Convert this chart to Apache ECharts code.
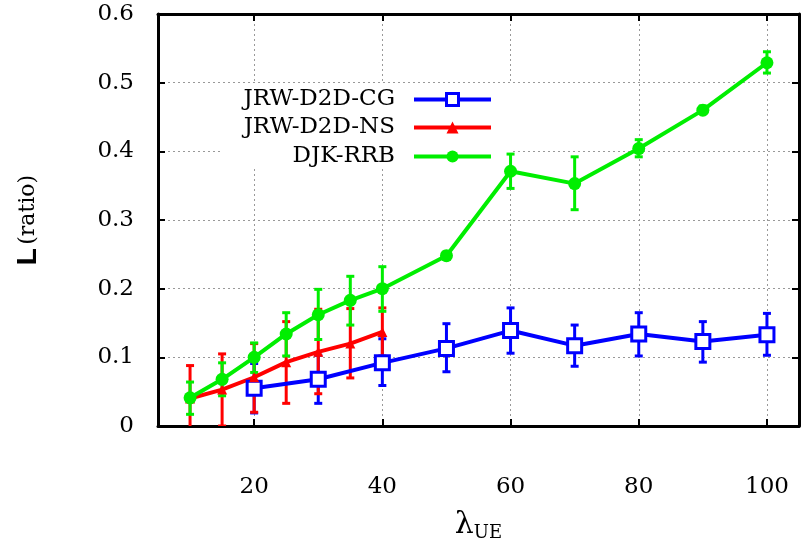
<!DOCTYPE html>
<html><head><meta charset="utf-8">
<script src="https://cdn.jsdelivr.net/npm/echarts@6/dist/echarts.min.js"></script>
<style>html,body{margin:0;padding:0;background:#fff}#c{width:801px;height:547px}</style>
</head><body><div id="c"></div>
<script>
// ---- data ----
const xTicks = [20, 40, 60, 80, 100];
const seriesNames = ['JRW-D2D-CG', 'JRW-D2D-NS', 'DJK-RRB'];

const xCG = [20, 30, 40, 50, 60, 70, 80, 90, 100];
const yCG = [0.055, 0.068, 0.092, 0.113, 0.139, 0.117, 0.134, 0.123, 0.133];
const loCG = [0.019, 0.033, 0.059, 0.079, 0.106, 0.087, 0.102, 0.093, 0.103];
const hiCG = [0.091, 0.103, 0.127, 0.149, 0.172, 0.147, 0.165, 0.152, 0.164];

const xNS = [10, 15, 20, 25, 30, 35, 40];
const yNS = [0.040, 0.053, 0.071, 0.093, 0.108, 0.120, 0.137];
const loNS = [-0.01, 0.0, 0.020, 0.033, 0.047, 0.070, 0.102];
const hiNS = [0.088, 0.105, 0.120, 0.152, 0.170, 0.171, 0.172];

const xRRB = [10, 15, 20, 25, 30, 35, 40, 50, 60, 70, 80, 90, 100];
const yRRB = [0.041, 0.068, 0.100, 0.134, 0.162, 0.183, 0.200, 0.248, 0.371, 0.353, 0.404, 0.460, 0.529];
const loRRB = [0.017, 0.044, 0.078, 0.102, 0.126, 0.147, 0.167, 0.243, 0.346, 0.315, 0.392, 0.455, 0.514];
const hiRRB = [0.064, 0.092, 0.121, 0.165, 0.199, 0.218, 0.232, 0.253, 0.396, 0.392, 0.417, 0.466, 0.545];

const colors = ['#0000ff', '#ff0000', '#00ee00'];
// ---------------

const SERIF = 'DejaVu Serif';
const pairs = (xs, ys) => xs.map((x, i) => [x, ys[i]]);

function errSeries(xs, lo, hi, color) {
  return {
    type: 'custom',
    clip: true,
    silent: true,
    data: xs.map((x, i) => [x, lo[i], hi[i]]),
    encode: { x: 0, y: [1, 2] },
    renderItem: function (params, api) {
      const x = api.value(0);
      const a = api.coord([x, api.value(1)]);
      const b = api.coord([x, api.value(2)]);
      const w = 4;
      const st = { stroke: color, lineWidth: 3 };
      return {
        type: 'group',
        children: [
          { type: 'line', shape: { x1: a[0], y1: a[1], x2: b[0], y2: b[1] }, style: st },
          { type: 'line', shape: { x1: a[0] - w, y1: a[1], x2: a[0] + w, y2: a[1] }, style: st },
          { type: 'line', shape: { x1: b[0] - w, y1: b[1], x2: b[0] + w, y2: b[1] }, style: st }
        ]
      };
    }
  };
}

function lineSeries(name, xs, ys, color, symbol, size, itemStyle) {
  return {
    type: 'line', name: name, data: pairs(xs, ys),
    symbol: symbol, symbolSize: size,
    showAllSymbol: true,
    lineStyle: { color: color, width: 4 },
    itemStyle: itemStyle,
    emphasis: { disabled: true }
  };
}

const legendTops = [88, 116, 145];

const option = {
  animation: false,
  backgroundColor: '#fff',
  grid: { left: 158, top: 14, width: 641, height: 412 },
  graphic: [{
    type: 'rect', z: 1,
    shape: { x: 222, y: 84, width: 290, height: 85 },
    style: { fill: '#fff' }
  }],
  legend: seriesNames.map((n, i) => ({
    data: [n], orient: 'horizontal', align: 'right',
    right: 308, top: legendTops[i], padding: 0,
    itemWidth: 77, itemHeight: 15, selectedMode: false,
    lineStyle: { width: 4 },
    itemStyle: { borderWidth: i === 0 ? 3 : 0 },
    textStyle: { fontFamily: SERIF, fontSize: 23, color: '#000', padding: [0, 14, 0, 0] }
  })),
  xAxis: [{
    type: 'value', min: 5, max: 105, position: 'bottom',
    name: '{l|λ}{s|UE}', nameLocation: 'middle', nameGap: 80,
    nameTextStyle: {
      rich: {
        l: { fontFamily: SERIF, fontSize: 30, color: '#000', lineHeight: 32, verticalAlign: 'top' },
        s: { fontFamily: SERIF, fontSize: 18, color: '#000', lineHeight: 18, verticalAlign: 'bottom', padding: [20, 0, 0, 0] }
      }
    },
    axisLine: { show: true, onZero: false, lineStyle: { color: '#000', width: 3 } },
    axisTick: { show: true, inside: true, length: 7, customValues: xTicks, lineStyle: { color: '#000', width: 2 } },
    axisLabel: { customValues: xTicks, margin: 50, fontFamily: SERIF, fontSize: 23, color: '#000' },
    splitLine: { show: true, lineStyle: { type: [2, 3], color: '#999', width: 1 } }
  }, {
    type: 'value', min: 5, max: 105, position: 'top',
    axisLine: { show: true, onZero: false, lineStyle: { color: '#000', width: 3 } },
    axisTick: { show: true, inside: true, length: 7, customValues: xTicks, lineStyle: { color: '#000', width: 2 } },
    axisLabel: { show: false },
    splitLine: { show: false }
  }],
  yAxis: [{
    type: 'value', min: 0, max: 0.6, interval: 0.1, position: 'left',
    name: '{b|L} {r|(ratio)}', nameLocation: 'middle', nameGap: 116, nameRotate: 90,
    nameTextStyle: {
      rich: {
        b: { fontFamily: 'Liberation Sans', fontWeight: 'bold', fontSize: 28, color: '#000' },
        r: { fontFamily: SERIF, fontSize: 22, color: '#000' }
      }
    },
    axisLine: { show: true, onZero: false, lineStyle: { color: '#000', width: 3 } },
    axisTick: { show: true, inside: true, length: 7, lineStyle: { color: '#000', width: 2 } },
    axisLabel: { margin: 24, fontFamily: SERIF, fontSize: 23, color: '#000',
      formatter: v => (v === 0 ? '0' : v.toFixed(1)) },
    splitLine: { show: true, lineStyle: { type: [2, 3], color: '#999', width: 1 } }
  }, {
    type: 'value', min: 0, max: 0.6, interval: 0.1, position: 'right',
    axisLine: { show: true, onZero: false, lineStyle: { color: '#000', width: 3 } },
    axisTick: { show: true, inside: true, length: 7, lineStyle: { color: '#000', width: 2 } },
    axisLabel: { show: false },
    splitLine: { show: false }
  }],
  series: [
    errSeries(xCG, loCG, hiCG, colors[0]),
    lineSeries(seriesNames[0], xCG, yCG, colors[0], 'rect', 14,
      { color: '#fff', borderColor: colors[0], borderWidth: 3 }),
    errSeries(xNS, loNS, hiNS, colors[1]),
    lineSeries(seriesNames[1], xNS, yNS, colors[1], 'triangle', 10, { color: colors[1] }),
    errSeries(xRRB, loRRB, hiRRB, colors[2]),
    lineSeries(seriesNames[2], xRRB, yRRB, colors[2], 'circle', 13, { color: colors[2] })
  ]
};

const chart = echarts.init(document.getElementById('c'), null, { renderer: 'canvas' });
chart.setOption(option);
</script>
</body></html>
